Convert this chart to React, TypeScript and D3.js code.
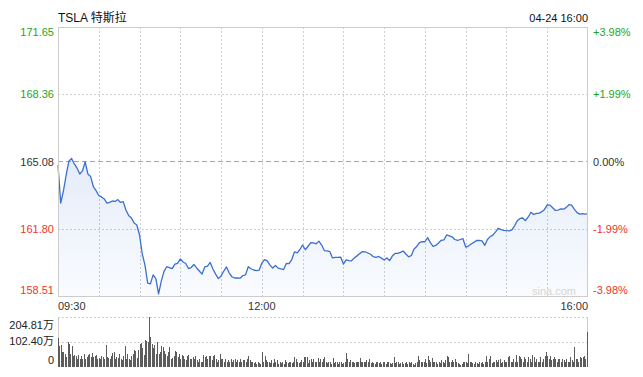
import React from 'react';
import * as d3 from 'd3';

const title = 'TSLA 特斯拉';
const dateLabel = '04-24 16:00';
const watermark = 'sina.com';
const prevClose = 165.08;
const priceTicks = [171.65, 168.36, 165.08, 161.8, 158.51];
const priceTickLabels = ['171.65', '168.36', '165.08', '161.80', '158.51'];
const pctTickLabels = ['+3.98%', '+1.99%', '0.00%', '-1.99%', '-3.98%'];
const timeTicks = [0, 150, 390];
const timeTickLabels = ['09:30', '12:00', '16:00'];
const gridMinutes = [30, 60, 90, 120, 150, 180, 210, 240, 270, 300, 330, 360];
const volTicks = [204.81, 102.405, 0];
const volTickLabels = ['204.81万', '102.40万', '0'];
const priceStepMinutes = 2;

// price every 2 minutes from 09:30
const prices = [
  164.91, 163.05, 163.64, 164.42, 165.1, 165.23, 164.96, 164.76, 164.47, 164.62,
  165.06, 164.47, 164.35, 163.85, 163.66, 163.42, 163.35, 163.25, 163.05, 163.08,
  163.15, 163.13, 163.22, 163.08, 163.12, 162.71, 162.44, 162.32, 162.08, 161.98,
  161.49, 160.56, 160.02, 159.14, 159.1, 159.54, 159.36, 158.61, 159.24, 159.71,
  159.94, 159.9, 159.85, 160.07, 160.1, 160.32, 160.17, 160.1, 159.85, 159.9,
  160.05, 159.88, 159.73, 159.58, 159.93, 159.97, 160.15, 159.83, 159.58, 159.36,
  159.49, 159.73, 159.93, 159.63, 159.45, 159.39, 159.39, 159.38, 159.51, 159.54,
  159.94, 159.84, 159.78, 159.75, 159.77, 160.12, 160.29, 160.23, 160.02, 159.88,
  160.0, 159.87, 159.83, 159.8, 160.1, 160.09, 160.29, 160.66, 160.62, 160.78,
  161.0, 160.77, 160.94, 161.12, 161.1, 161.06, 161.19, 161.0, 160.73, 160.71,
  160.68, 160.37, 160.4, 160.4, 160.41, 160.07, 160.27, 160.24, 160.23, 160.37,
  160.47, 160.58, 160.68, 160.67, 160.61, 160.55, 160.43, 160.4, 160.44, 160.36,
  160.27, 160.37, 160.24, 160.46, 160.59, 160.59, 160.64, 160.71, 160.56, 160.42,
  160.49, 160.81, 160.93, 161.12, 161.17, 161.16, 161.36, 161.12, 160.93, 160.98,
  161.1, 161.23, 161.25, 161.49, 161.45, 161.4, 161.27, 161.23, 161.27, 161.31,
  160.9, 160.95, 161.05, 161.13, 161.22, 161.23, 161.2, 160.98, 161.27, 161.41,
  161.48, 161.64, 161.82, 161.75, 161.72, 161.7, 161.69, 161.74, 161.94, 162.19,
  162.3, 162.32, 162.19, 162.37, 162.6, 162.49, 162.55, 162.55, 162.63, 162.74,
  162.96, 162.95, 162.82, 162.69, 162.71, 162.77, 162.75, 162.84, 162.97, 162.95,
  162.74, 162.58, 162.51, 162.53, 162.51, 162.53,
];

// volume per minute, in 万 shares
const volumes = [
  116, 86, 88, 61, 61, 52, 38, 102, 93, 52,
  83, 45, 48, 42, 31, 48, 31, 45, 31, 52,
  31, 38, 48, 52, 38, 56, 38, 42, 48, 31,
  34, 29, 42, 38, 31, 89, 38, 34, 29, 42,
  56, 61, 31, 41, 34, 52, 31, 25, 45, 83,
  31, 52, 31, 25, 42, 52, 70, 66, 34, 70,
  93, 96, 75, 48, 110, 106, 102, 204.81, 124, 93,
  75, 89, 52, 102, 52, 59, 83, 79, 66, 52,
  45, 61, 79, 31, 34, 45, 66, 61, 38, 52,
  31, 48, 42, 31, 25, 42, 48, 31, 29, 38,
  31, 42, 25, 20, 31, 20, 18, 48, 38, 45,
  31, 45, 42, 25, 42, 48, 31, 20, 25, 52,
  31, 29, 18, 29, 20, 25, 18, 31, 20, 25,
  31, 18, 25, 18, 29, 18, 25, 25, 18, 31,
  42, 25, 18, 20, 15, 18, 11, 20, 15, 11,
  59, 20, 42, 25, 18, 20, 15, 25, 15, 29,
  18, 25, 11, 18, 15, 18, 11, 25, 18, 15,
  18, 18, 15, 18, 38, 29, 18, 15, 18, 25,
  20, 38, 38, 38, 15, 25, 29, 18, 31, 20,
  18, 34, 18, 31, 20, 31, 38, 18, 15, 20,
  20, 11, 34, 15, 20, 18, 11, 18, 20, 11,
  15, 18, 56, 29, 20, 25, 18, 20, 15, 18,
  20, 18, 34, 18, 20, 18, 20, 25, 20, 29,
  15, 20, 15, 11, 18, 20, 15, 18, 11, 18,
  20, 11, 20, 18, 15, 11, 15, 38, 15, 20,
  18, 11, 15, 18, 11, 15, 20, 11, 18, 15,
  18, 11, 7, 15, 20, 42, 25, 20, 18, 20,
  31, 15, 42, 25, 18, 34, 20, 18, 20, 11,
  20, 15, 25, 18, 15, 25, 42, 38, 20, 18,
  25, 20, 29, 18, 15, 11, 7, 11, 18, 20,
  18, 15, 52, 20, 18, 15, 11, 18, 15, 11,
  20, 15, 18, 11, 18, 42, 20, 31, 42, 15,
  20, 18, 25, 18, 25, 31, 15, 20, 25, 18,
  20, 38, 45, 18, 20, 31, 18, 48, 20, 42,
  38, 29, 20, 38, 31, 20, 38, 29, 20, 48,
  38, 20, 31, 20, 18, 38, 20, 31, 42, 61,
  42, 31, 42, 25, 31, 38, 31, 20, 31, 29,
  18, 31, 25, 20, 31, 20, 18, 38, 25, 18,
  79, 31, 29, 20, 38, 34, 38, 42, 29, 72,
  143,
];

const FONT = '"Liberation Sans", Arial, "Noto Sans CJK SC", sans-serif';
const GREEN = '#1ea51e';
const RED = '#f2332a';
const DARK = '#333';

export default function App() {
  const L = 58, R = 588, T = 27, B = 296;
  const VT = 317, VB = 366.5;
  const x = d3.scaleLinear().domain([0, 390]).range([L, R]);
  const y = d3.scaleLinear().domain([priceTicks[4], priceTicks[0]]).range([B, T]);
  const v = d3.scaleLinear().domain([0, volTicks[0]]).range([VB, VT]);

  const line = d3.line<number>().x((_, i) => x(i * priceStepMinutes)).y((d) => y(d));
  const area = d3
    .area<number>()
    .x((_, i) => x(i * priceStepMinutes))
    .y0(B)
    .y1((d) => y(d));

  const labelColor = (i: number) => (i < 2 ? GREEN : i === 2 ? DARK : RED);
  const priceBaseline = (i: number) => {
    const yy = y(priceTicks[i]);
    if (i === 0) return yy + 9;
    if (i === priceTicks.length - 1) return yy - 2;
    return yy + 4;
  };
  const volBaseline = (i: number) => {
    const yy = v(volTicks[i]);
    if (i === 0) return yy + 11.5;
    if (i === volTicks.length - 1) return yy - 3;
    return yy + 3;
  };

  return (
    <svg
      width={643}
      height={377}
      style={{ position: 'absolute', left: 0, top: 0, background: '#fff' }}
      fontFamily={FONT}
    >
      <defs>
        <linearGradient id="areaGrad" gradientUnits="userSpaceOnUse" x1="0" y1={150} x2="0" y2={B}>
          <stop offset="0" stopColor="#3d74d4" stopOpacity={0.14} />
          <stop offset="1" stopColor="#3d74d4" stopOpacity={0.03} />
        </linearGradient>
      </defs>

      {/* title */}
      <text x={L} y={22} fontSize={12} fill="#111">{title}</text>
      <text x={R} y={22} fontSize={11} fill="#111" textAnchor="end">{dateLabel}</text>

      {/* vertical grid */}
      {gridMinutes.map((m) => (
        <line
          key={'vg' + m}
          x1={Math.round(x(m)) + 0.5}
          x2={Math.round(x(m)) + 0.5}
          y1={T}
          y2={B}
          stroke="#cfcfcf"
          strokeDasharray="2,2"
        />
      ))}
      {/* horizontal grid */}
      {priceTicks.map((p, i) =>
        i === 0 || i === priceTicks.length - 1 || p === prevClose ? null : (
          <line
            key={'hg' + i}
            x1={L}
            x2={R}
            y1={Math.round(y(p)) + 0.5}
            y2={Math.round(y(p)) + 0.5}
            stroke="#cfcfcf"
            strokeDasharray="2,2"
          />
        )
      )}

      {/* area + line */}
      <path d={area(prices) || ''} fill="url(#areaGrad)" />
      <path
        d={`M${L},${Math.round(y(prevClose)) + 0.5}H${R}`}
        fill="none"
        stroke="#ff8a3d"
        strokeWidth={1.1}
        strokeDasharray="5,3"
      />
      <path d={line(prices) || ''} fill="none" stroke="#3b6fd0" strokeWidth={1.3} strokeLinejoin="round" />

      {/* border */}
      <rect x={L + 0.5} y={T + 0.5} width={R - L - 1} height={B - T} fill="none" stroke="#cccccc" />

      <text x={576} y={295} fontSize={11} fill="#d6d6d6" textAnchor="end">{watermark}</text>

      {/* price labels */}
      {priceTickLabels.map((t, i) => (
        <text key={'pl' + i} x={54} y={priceBaseline(i)} fontSize={11} textAnchor="end" fill={labelColor(i)}>
          {t}
        </text>
      ))}
      {pctTickLabels.map((t, i) => (
        <text key={'pr' + i} x={593} y={priceBaseline(i)} fontSize={11} fill={labelColor(i)}>
          {t}
        </text>
      ))}

      {/* time labels */}
      {timeTicks.map((m, i) => (
        <text
          key={'tl' + i}
          x={x(m)}
          y={310}
          fontSize={11}
          fill={DARK}
          textAnchor={i === 0 ? 'start' : i === timeTicks.length - 1 ? 'end' : 'middle'}
        >
          {timeTickLabels[i]}
        </text>
      ))}

      {/* volume chart */}
      {volTicks.slice(0, 2).map((t, i) => (
        <line
          key={'vl' + i}
          x1={L}
          x2={R}
          y1={Math.round(v(t)) + 0.5}
          y2={Math.round(v(t)) + 0.5}
          stroke="#cfcfcf"
          strokeDasharray="2,2"
        />
      ))}
      <line x1={L + 0.5} x2={L + 0.5} y1={VT} y2={VB} stroke="#cccccc" />
      <line x1={R - 0.5} x2={R - 0.5} y1={VT} y2={VB} stroke="#cccccc" />
      {volumes.map((vol, m) => (
        <rect
          key={'vb' + m}
          x={Math.round(x(m)) - (m === volumes.length - 1 ? 1 : 0)}
          y={v(vol)}
          width={1}
          height={VB - v(vol)}
          fill="#5c5c5c"
          shapeRendering="crispEdges"
        />
      ))}
      {volTickLabels.map((t, i) => (
        <text key={'vt' + i} x={54} y={volBaseline(i)} fontSize={11} textAnchor="end" fill="#222">
          {t}
        </text>
      ))}
    </svg>
  );
}
